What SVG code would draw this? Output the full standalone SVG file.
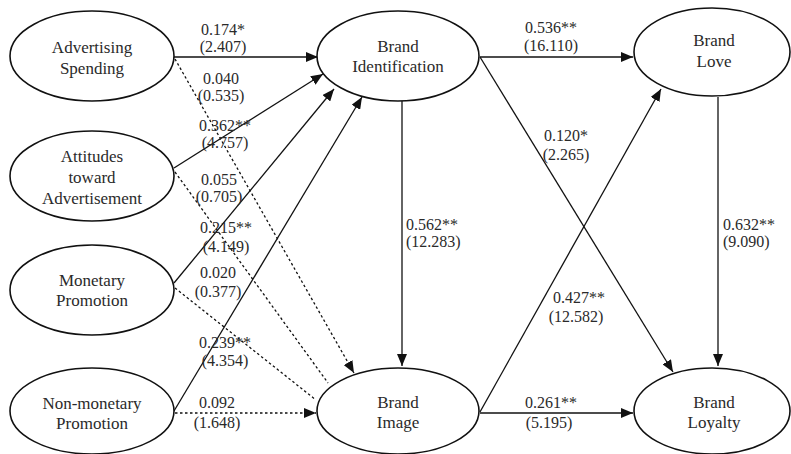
<svg xmlns="http://www.w3.org/2000/svg" width="791" height="454" viewBox="0 0 791 454">
<style>
.node ellipse{fill:#fff;stroke:#111;stroke-width:1.6}
.nt{font-family:"Liberation Serif","Times New Roman",serif;font-size:17px;fill:#2a2a2a;text-anchor:middle}
.el{font-family:"Liberation Serif","Times New Roman",serif;font-size:16px;fill:#2a2a2a;text-anchor:middle}
.ell{text-anchor:start}
.s{stroke:#111;stroke-width:1.3;fill:none}
.d{stroke:#111;stroke-width:1.3;fill:none;stroke-dasharray:2.5 2.5}
.a{marker-end:url(#ah)}
</style>
<defs>
<marker id="ah" viewBox="0 0 12 10" refX="12" refY="5" markerWidth="12" markerHeight="10" markerUnits="userSpaceOnUse" orient="auto">
<path d="M0,0 L12,5 L0,10 z" fill="#111"/>
</marker>
</defs>
<rect width="791" height="454" fill="#fff"/>
<g id="connectors">
<path class="s a" d="M174,57 L318,57"/>
<path class="d a" d="M175,59 L354,373"/>
<path class="s a" d="M174,168 L323,74"/>
<path class="d" d="M175,172 L328,383"/>
<path class="s a" d="M174,283 L334,89"/>
<path class="d" d="M175,288 L316,400"/>
<path class="s a" d="M174,411 L362,97"/>
<path class="d a" d="M175,413 L316,413"/>
<path class="s a" d="M480,57 L633,57"/>
<path class="s a" d="M480,57 L673,372"/>
<path class="s a" d="M402,101 L402,366"/>
<path class="s a" d="M480,412 L661,89"/>
<path class="s a" d="M480,413 L633,413"/>
<path class="s a" d="M718,97 L718,366"/>
</g>
<g id="edge-labels">
<text class="el" x="223" y="35">0.174*</text>
<text class="el" x="223" y="52">(2.407)</text>
<text class="el" x="221" y="84">0.040</text>
<text class="el" x="221" y="101">(0.535)</text>
<text class="el" x="225" y="131">0.362**</text>
<text class="el" x="225" y="148">(4.757)</text>
<text class="el" x="219" y="185">0.055</text>
<text class="el" x="219" y="202">(0.705)</text>
<text class="el" x="226" y="233">0.215**</text>
<text class="el" x="226" y="252">(4.149)</text>
<text class="el" x="218" y="278">0.020</text>
<text class="el" x="218" y="297">(0.377)</text>
<text class="el" x="225" y="348">0.239**</text>
<text class="el" x="225" y="366">(4.354)</text>
<text class="el" x="217" y="408">0.092</text>
<text class="el" x="217" y="428">(1.648)</text>
<text class="el" x="551" y="33">0.536**</text>
<text class="el" x="551" y="51">(16.110)</text>
<text class="el" x="566" y="141">0.120*</text>
<text class="el" x="566" y="160">(2.265)</text>
<text class="el ell" x="406" y="230">0.562**</text>
<text class="el ell" x="406" y="247">(12.283)</text>
<text class="el ell" x="723" y="230">0.632**</text>
<text class="el ell" x="723" y="247">(9.090)</text>
<text class="el" x="579" y="303">0.427**</text>
<text class="el" x="576" y="322">(12.582)</text>
<text class="el" x="551" y="408">0.261**</text>
<text class="el" x="549" y="428">(5.195)</text>
</g>
<g id="n-adv" class="node">
<ellipse cx="92" cy="56" rx="82" ry="45"/>
<text class="nt" x="92" y="53">Advertising</text>
<text class="nt" x="92" y="74">Spending</text>
</g>
<g id="n-att" class="node">
<ellipse cx="92" cy="176" rx="82" ry="45"/>
<text class="nt" x="92" y="162">Attitudes</text>
<text class="nt" x="92" y="183">toward</text>
<text class="nt" x="92" y="204">Advertisement</text>
</g>
<g id="n-mon" class="node">
<ellipse cx="92" cy="290" rx="82" ry="45"/>
<text class="nt" x="92" y="286">Monetary</text>
<text class="nt" x="92" y="306">Promotion</text>
</g>
<g id="n-nonmon" class="node">
<ellipse cx="92" cy="411" rx="82" ry="43"/>
<text class="nt" x="92" y="409">Non-monetary</text>
<text class="nt" x="92" y="429">Promotion</text>
</g>
<g id="n-bid" class="node">
<ellipse cx="398" cy="56" rx="81" ry="45"/>
<text class="nt" x="398" y="52">Brand</text>
<text class="nt" x="398" y="72">Identification</text>
</g>
<g id="n-bimage" class="node">
<ellipse cx="398" cy="411" rx="81" ry="43"/>
<text class="nt" x="398" y="408">Brand</text>
<text class="nt" x="398" y="428">Image</text>
</g>
<g id="n-blove" class="node">
<ellipse cx="712" cy="52" rx="78" ry="44"/>
<text class="nt" x="714" y="46">Brand</text>
<text class="nt" x="714" y="67">Love</text>
</g>
<g id="n-bloyalty" class="node">
<ellipse cx="712" cy="411" rx="78" ry="43"/>
<text class="nt" x="714" y="408">Brand</text>
<text class="nt" x="714" y="428">Loyalty</text>
</g>
</svg>
